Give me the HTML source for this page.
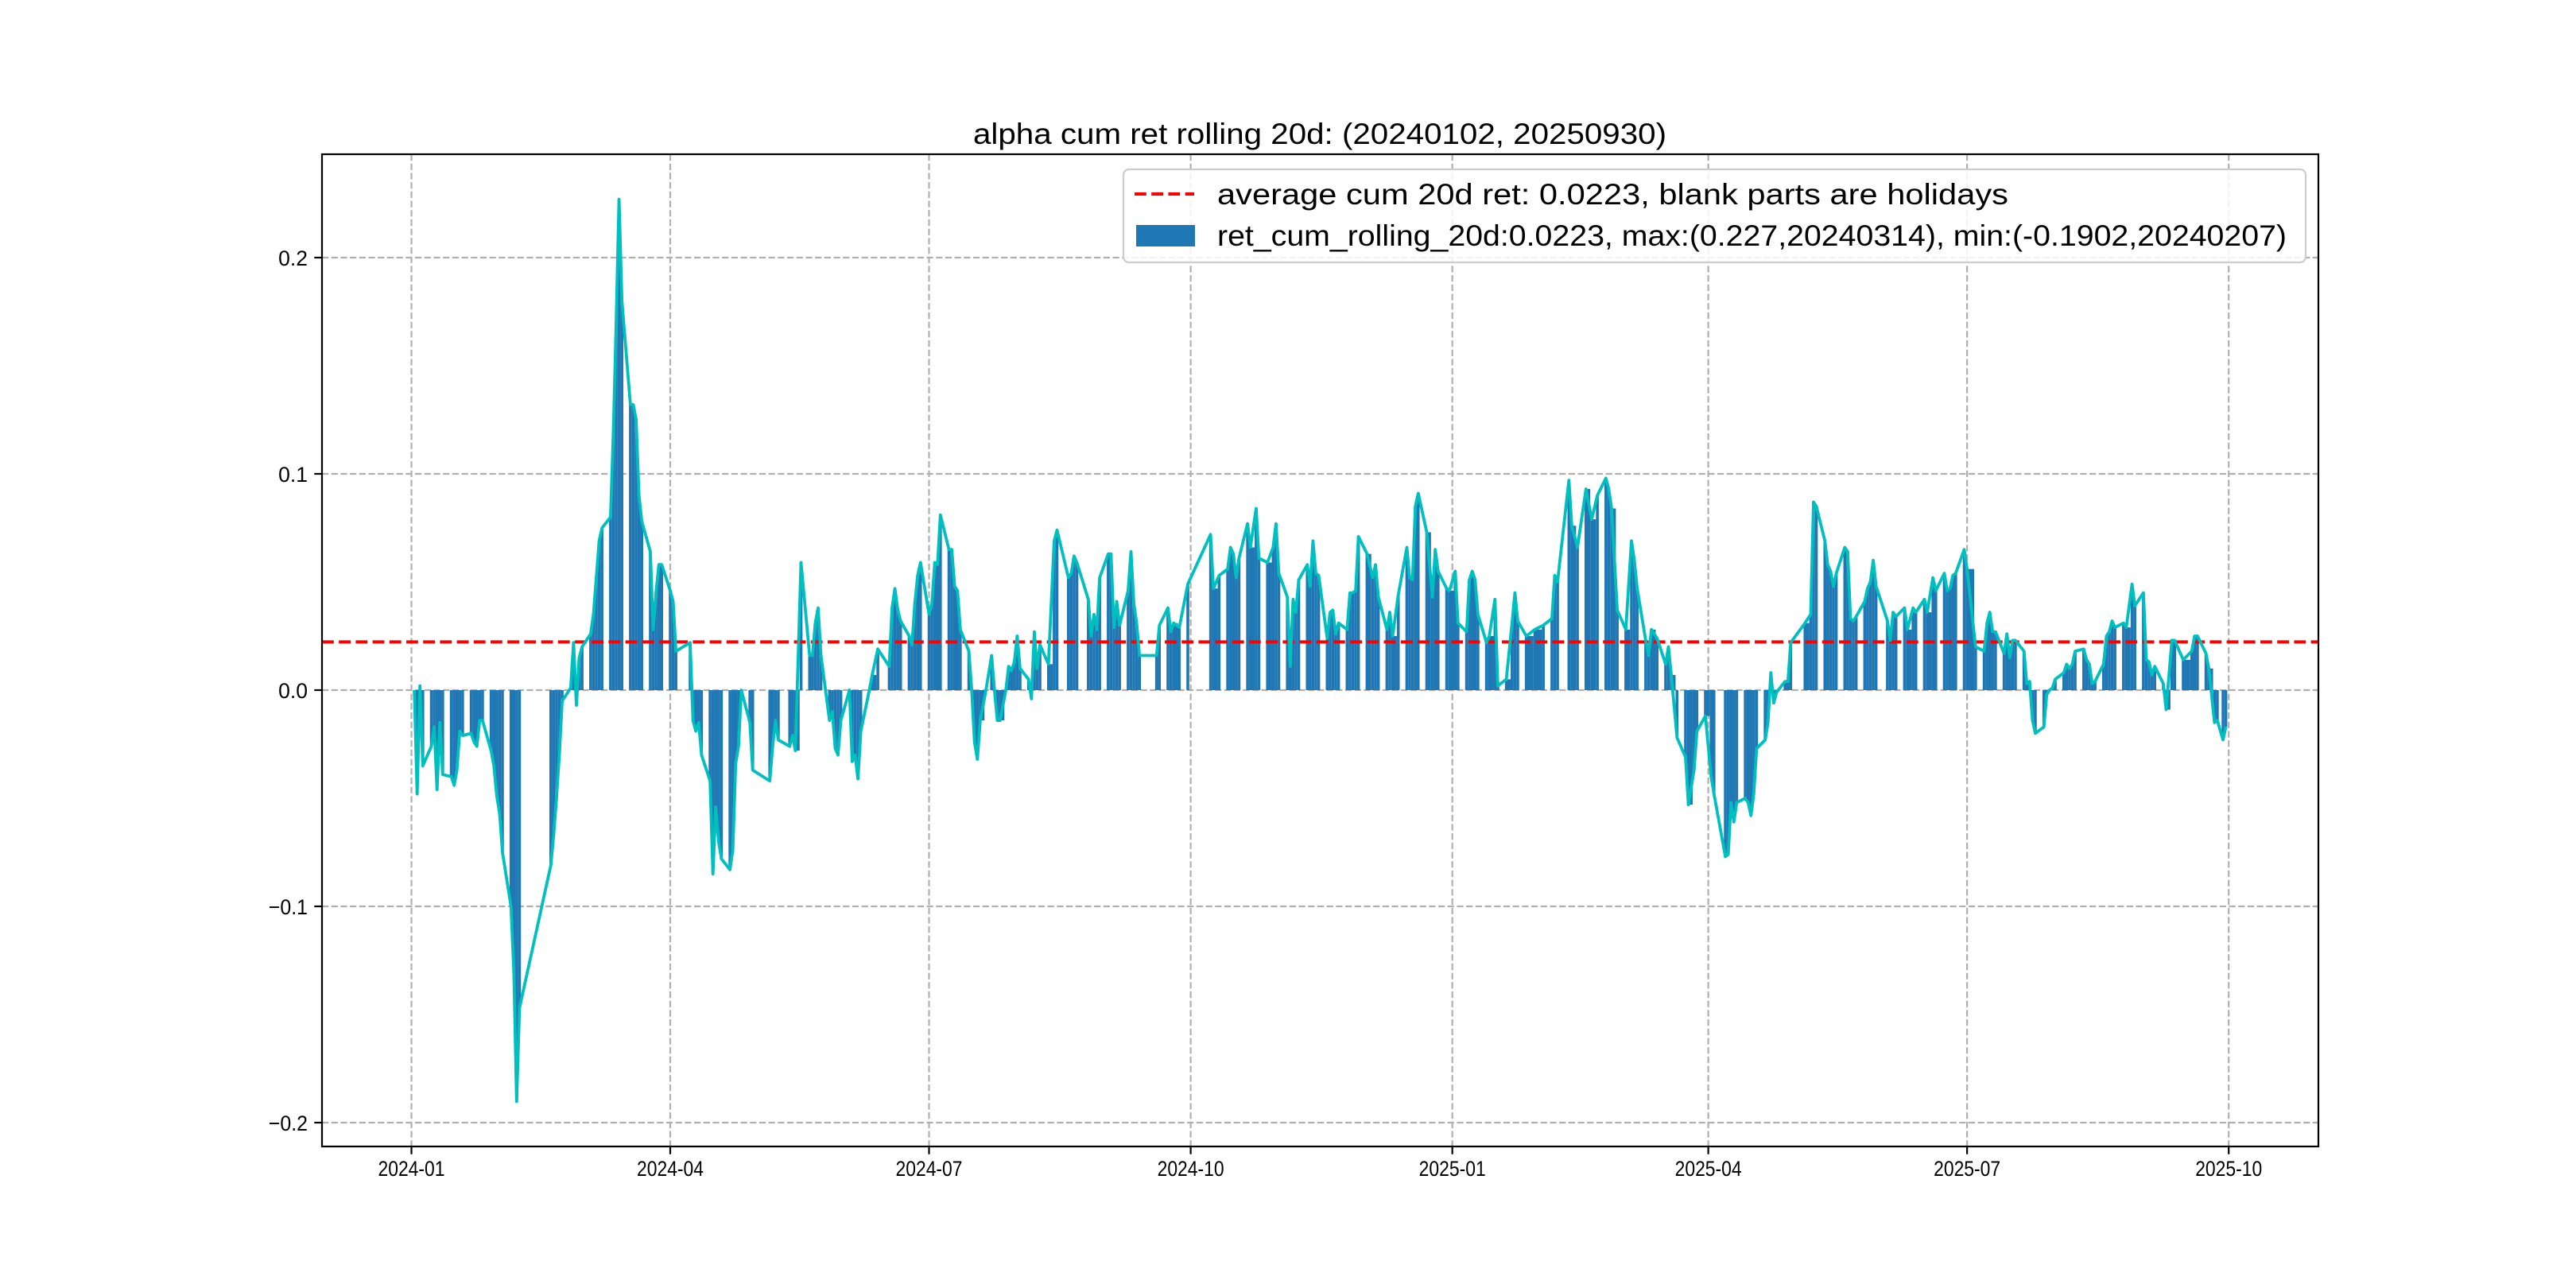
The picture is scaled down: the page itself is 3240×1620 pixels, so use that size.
<!DOCTYPE html>
<html><head><meta charset="utf-8"><title>alpha cum ret rolling 20d</title>
<style>html,body{margin:0;padding:0;background:#fff;}svg{display:block;}</style></head>
<body>
<svg id="chart" xmlns="http://www.w3.org/2000/svg" width="3240" height="1620" viewBox="0 0 3240 1620" font-family="'Liberation Sans','WenQuanYi Zen Hei',sans-serif">
<rect width="3240" height="1620" fill="#fff"/>
<g id="grid"></g>
<g id="bars"></g>
<g id="lines"></g>
<g id="axes"></g>
<text x="1660" y="181" font-size="37" text-anchor="middle" textLength="872" lengthAdjust="spacingAndGlyphs">alpha cum ret rolling 20d: (20240102, 20250930)</text>
<g>
<rect x="1413" y="213" width="1487" height="117" rx="7" fill="#fff" fill-opacity="0.85" stroke="#cccccc" stroke-width="2.2"/>
<line x1="1427" y1="244" x2="1502" y2="244" stroke="#ff0000" stroke-width="4" stroke-dasharray="14.8,6.4"/>
<text x="1531" y="257" font-size="37" textLength="995" lengthAdjust="spacingAndGlyphs">average cum 20d ret: 0.0223, blank parts are holidays</text>
<rect x="1429" y="283" width="74" height="27" fill="#1f77b4"/>
<text x="1531" y="309" font-size="37" textLength="1345" lengthAdjust="spacingAndGlyphs">ret_cum_rolling_20d:0.0223, max:(0.227,20240314), min:(-0.1902,20240207)</text>
</g>
</svg>
<script>
// x values: trading days counted from 2024-01-01 (day 0, a Monday)
const dayIndex = [1,2,3,4,7,8,9,10,11,14,15,16,17,18,21,22,23,24,25,28,29,30,31,32,35,36,37,38,49,50,51,52,53,56,57,58,59,60,63,64,65,66,67,70,71,72,73,74,77,78,79,80,81,84,85,86,87,88,91,92,93,98,99,100,101,102,105,106,107,108,109,112,113,114,115,116,119,120,126,127,128,129,133,134,135,137,140,141,142,143,144,147,148,149,150,151,154,155,156,157,158,161,162,164,168,169,170,171,172,175,176,177,178,179,182,183,184,185,186,189,190,191,192,193,196,197,198,199,200,202,204,205,206,207,209,210,211,212,213,214,217,218,219,220,221,224,226,227,231,232,233,234,238,239,240,241,242,245,246,247,248,249,252,253,254,255,256,262,263,266,267,268,270,273,281,282,284,287,288,289,290,291,294,295,297,298,301,303,304,305,308,309,310,311,312,315,316,317,318,319,322,323,324,325,326,329,330,331,332,333,336,338,339,340,343,344,345,347,350,351,352,353,354,357,359,360,361,364,365,367,368,371,372,373,374,375,378,379,381,382,385,387,388,389,392,395,398,401,402,403,407,408,410,413,415,417,420,421,422,424,427,429,430,431,434,435,436,438,441,442,443,445,448,449,451,452,455,457,458,462,463,464,465,466,469,470,471,472,473,476,477,478,479,480,483,484,485,490,492,493,494,497,498,499,500,501,504,505,506,507,508,511,512,513,514,515,519,520,521,522,525,526,528,529,532,533,535,536,539,540,541,542,543,546,547,550,553,554,555,556,557,560,561,562,563,564,567,568,569,570,571,574,575,576,577,578,581,582,583,584,585,588,589,590,591,592,595,596,597,598,599,602,603,605,606,609,610,611,612,613,616,617,619,620,623,626,627,628,631,632,634,635,637,638];
const retValues = [0.000,-0.048,0.002,-0.035,-0.026,-0.017,-0.046,-0.015,-0.039,-0.040,-0.044,-0.037,-0.019,-0.021,-0.020,-0.024,-0.026,-0.014,-0.014,-0.028,-0.035,-0.049,-0.057,-0.075,-0.100,-0.130,-0.1902,-0.147,-0.081,-0.067,-0.050,-0.030,-0.005,0.001,0.022,-0.007,0.015,0.020,0.026,0.035,0.052,0.069,0.075,0.080,0.120,0.170,0.227,0.180,0.132,0.132,0.125,0.090,0.078,0.064,0.028,0.045,0.058,0.058,0.046,0.041,0.018,0.022,-0.014,-0.019,-0.015,-0.030,-0.042,-0.085,-0.054,-0.070,-0.078,-0.083,-0.074,-0.034,-0.026,0.000,-0.015,-0.037,-0.042,-0.026,-0.014,-0.023,-0.026,-0.021,-0.028,0.059,0.016,0.016,0.031,0.038,0.016,-0.014,-0.010,-0.027,-0.030,-0.014,0.000,-0.033,-0.030,-0.041,-0.019,0.000,0.007,0.019,0.011,0.038,0.047,0.037,0.032,0.025,0.021,0.040,0.053,0.059,0.035,0.040,0.059,0.058,0.081,0.065,0.065,0.048,0.046,0.028,0.018,0.000,-0.024,-0.032,-0.014,0.000,0.016,0.000,-0.014,-0.014,0.000,0.011,0.009,0.013,0.025,0.010,0.005,-0.004,0.027,0.010,0.021,0.012,0.069,0.074,0.052,0.054,0.062,0.059,0.042,0.025,0.035,0.028,0.052,0.063,0.063,0.029,0.041,0.030,0.046,0.064,0.040,0.031,0.016,0.016,0.030,0.038,0.027,0.031,0.029,0.049,0.072,0.047,0.053,0.056,0.066,0.063,0.052,0.061,0.077,0.066,0.084,0.061,0.059,0.066,0.077,0.054,0.043,0.011,0.042,0.036,0.051,0.058,0.048,0.069,0.054,0.053,0.024,0.036,0.037,0.026,0.031,0.028,0.045,0.045,0.046,0.071,0.063,0.052,0.058,0.043,0.028,0.036,0.025,0.044,0.066,0.052,0.051,0.085,0.091,0.073,0.043,0.065,0.055,0.047,0.046,0.055,0.031,0.027,0.051,0.055,0.051,0.035,0.022,0.025,0.042,0.002,0.005,0.031,0.045,0.032,0.025,0.028,0.030,0.033,0.053,0.050,0.097,0.076,0.066,0.093,0.079,0.090,0.098,0.093,0.084,0.037,0.028,0.069,0.060,0.047,0.023,0.016,0.028,0.024,0.012,0.020,0.007,-0.022,-0.031,-0.053,-0.037,-0.019,-0.012,-0.040,-0.048,-0.077,-0.076,-0.052,-0.061,-0.052,-0.050,-0.052,-0.058,-0.048,-0.027,-0.023,-0.015,0.008,-0.006,-0.001,0.004,0.004,0.022,0.031,0.035,0.087,0.085,0.069,0.058,0.055,0.048,0.054,0.066,0.064,0.033,0.032,0.034,0.041,0.047,0.050,0.060,0.048,0.032,0.023,0.036,0.034,0.038,0.028,0.038,0.036,0.042,0.036,0.052,0.046,0.054,0.046,0.047,0.053,0.054,0.065,0.056,0.020,0.018,0.031,0.036,0.027,0.027,0.017,0.026,0.015,0.023,0.023,0.018,0.003,0.004,-0.014,-0.020,-0.017,-0.002,0.000,0.001,0.005,0.008,0.012,0.010,0.012,0.018,0.019,0.014,0.012,0.003,0.004,0.012,0.025,0.027,0.032,0.029,0.031,0.029,0.049,0.039,0.045,0.014,0.013,0.007,0.011,0.003,-0.009,0.023,0.023,0.014,0.018,0.025,0.025,0.017,0.010,-0.015,-0.014,-0.023,-0.017];
const averageValue = [0.0223];
const yTickValues = [-0.2,-0.1,0.0,0.1,0.2];
const yTickLabels = ["\u22120.2","\u22120.1","0.0","0.1","0.2"];
const xTickDays = [0,91,182,274,366,456,547,639];
const xTickLabels = ["2024-01","2024-04","2024-07","2024-10","2025-01","2025-04","2025-07","2025-10"];

const NS = "http://www.w3.org/2000/svg";
const PL = 405, PR = 2916, PT = 194, PB = 1442;
const X0 = 517.5, XPD = 3.577;
const Y0 = 868, YPU = 2720;
function xScale(d){ return X0 + d * XPD; }
function yScale(v){ return Y0 - v * YPU; }
function mk(tag, attrs, parent){
  const e = document.createElementNS(NS, tag);
  for (const k in attrs) e.setAttribute(k, attrs[k]);
  parent.appendChild(e);
  return e;
}
const grid = document.getElementById('grid');
const bars = document.getElementById('bars');
const lines = document.getElementById('lines');
const axes = document.getElementById('axes');

yTickValues.forEach((v, i) => {
  const y = yScale(v);
  const g = mk('line', {x1: PL, x2: PR, y1: y, y2: y, stroke: '#b0b0b0', 'stroke-width': 2.2, 'stroke-dasharray': '8.2,3.5'}, grid);
  
  
  const t = mk('line', {x1: PL - 9.7, x2: PL, y1: y, y2: y, stroke: '#000', 'stroke-width': 2.2}, axes);
  
  
  const lbl = yTickLabels[i];
  const tx = mk('text', {x: 387, y: y + 10, 'font-size': 27, 'text-anchor': 'end', textLength: 12.3 * lbl.length, lengthAdjust: 'spacingAndGlyphs'}, axes);
  tx.textContent = lbl;
  
  
});
xTickDays.forEach((d, i) => {
  const x = xScale(d);
  const g = mk('line', {x1: x, x2: x, y1: PT, y2: PB, stroke: '#b0b0b0', 'stroke-width': 2.2, 'stroke-dasharray': '8.2,3.5'}, grid);
  
  
  const t = mk('line', {x1: x, x2: x, y1: PB, y2: PB + 9.7, stroke: '#000', 'stroke-width': 2.2}, axes);
  
  
  const tx = mk('text', {x: x, y: 1479, 'font-size': 27, 'text-anchor': 'middle', textLength: 84, lengthAdjust: 'spacingAndGlyphs'}, axes);
  tx.textContent = xTickLabels[i];
  
  
});

dayIndex.forEach((d, i) => {
  const v = retValues[i];
  const y = yScale(v);
  let right = d + 0.5;
  const nxt = dayIndex[i + 1];
  if (nxt !== undefined && Math.floor(nxt / 7) === Math.floor(d / 7)) right = nxt - 0.5;
  const x1 = xScale(d - 0.5), x2 = xScale(right);
  const b = mk('rect', {x: x1, width: x2 - x1, y: Math.min(y, Y0), height: Math.abs(Y0 - y), fill: '#1f77b4'}, bars);
  
  
});

const avgY = yScale(averageValue[0]);
const avg = mk('line', {x1: PL, x2: PR, y1: avgY, y2: avgY, stroke: '#ff0000', 'stroke-width': 4, 'stroke-dasharray': '14.8,6.4'}, lines);



const pts = dayIndex.map((d, i) => xScale(d).toFixed(1) + ',' + yScale(retValues[i]).toFixed(1)).join(' ');
const pl = mk('polyline', {points: pts, fill: 'none', stroke: '#00bfbf', 'stroke-width': 3.8, 'stroke-linejoin': 'round'}, lines);



const frame = mk('rect', {x: PL, y: PT, width: PR - PL, height: PB - PT, fill: 'none', stroke: '#000', 'stroke-width': 2.2}, axes);


</script>
</body></html>
